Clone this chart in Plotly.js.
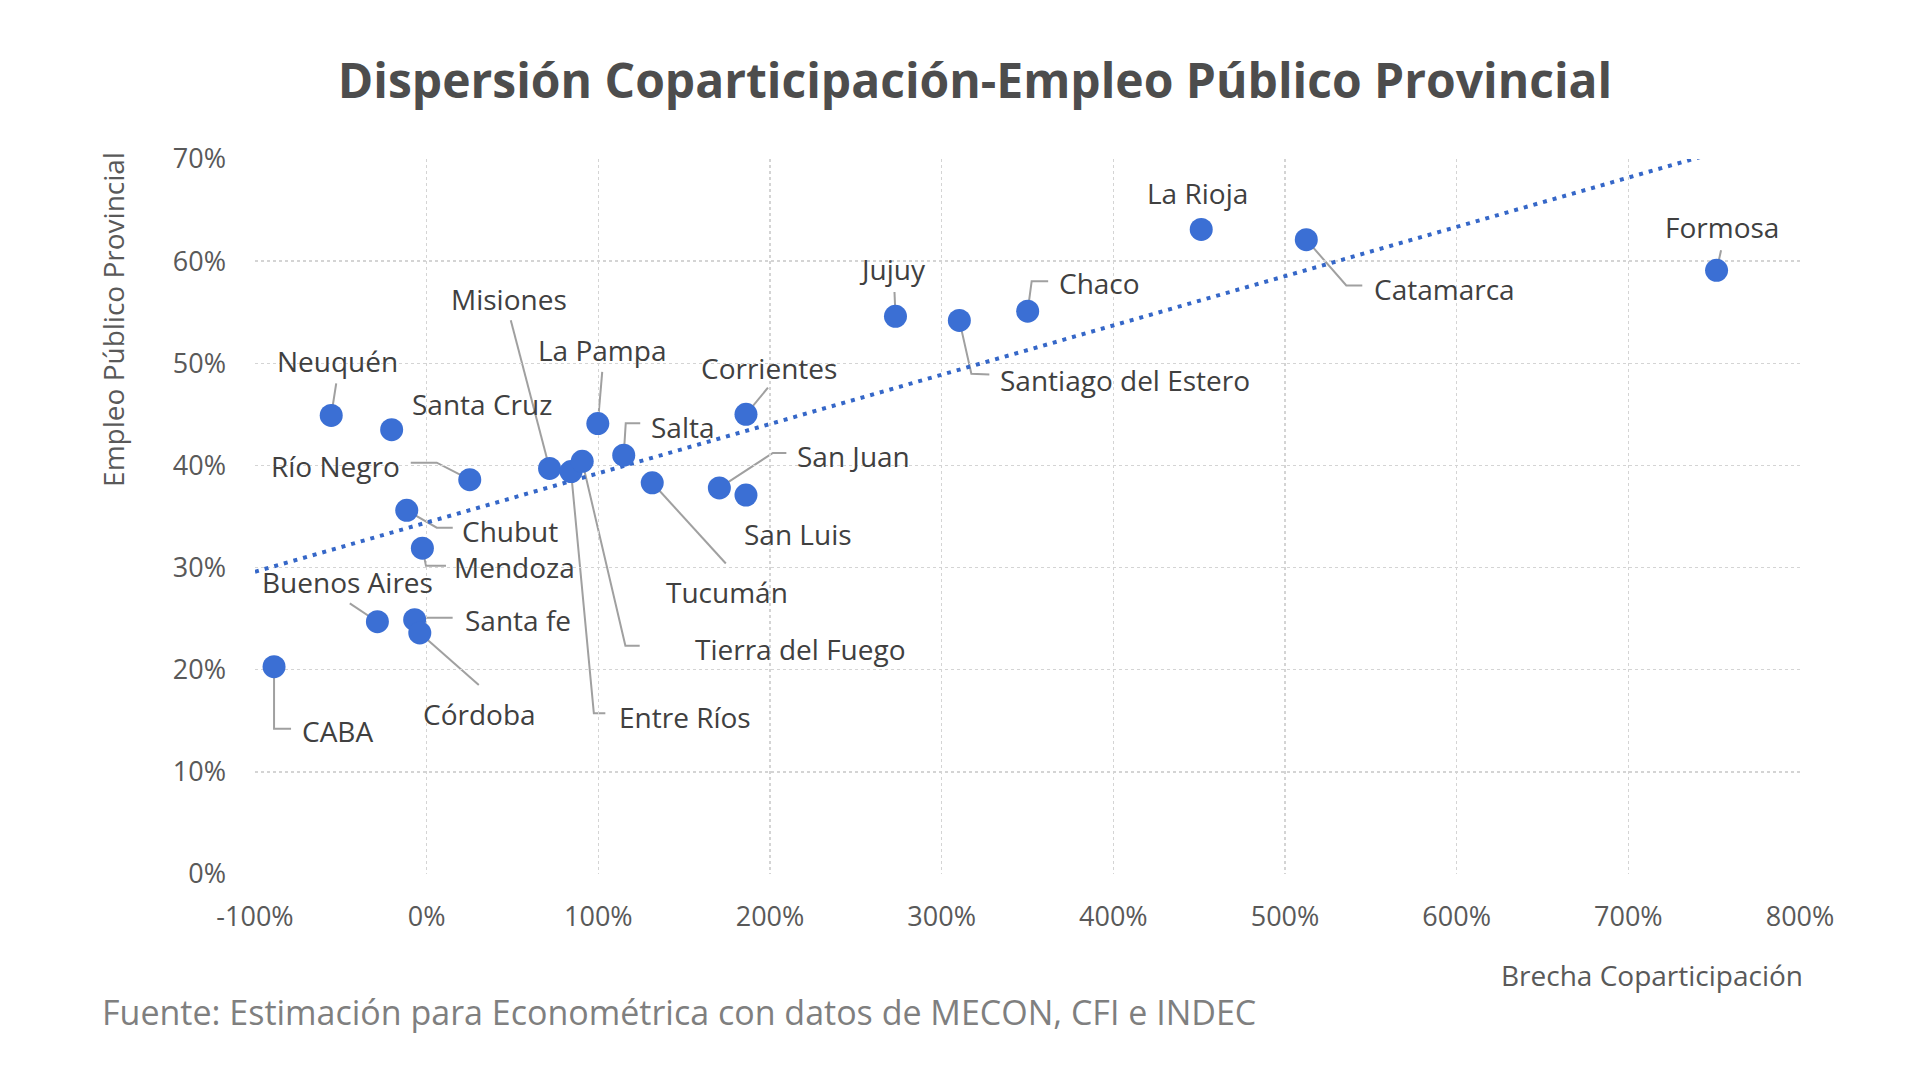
<!DOCTYPE html>
<html lang="es">
<head>
<meta charset="utf-8">
<title>Dispersión Coparticipación-Empleo Público Provincial</title>
<script src="https://cdn.plot.ly/plotly-3.0.1.min.js"></script>
<style>
  html, body { margin: 0; padding: 0; background: #ffffff; }
  #chart { width: 1920px; height: 1092px; }
  /* soft shadow under the province markers */
  .scatterlayer .trace.provincias .point { filter: drop-shadow(1px 3px 2px rgba(0,0,0,0.35)); }
</style>
</head>
<body>
<div id="chart"></div>
<script>
// Jurisdicciones
const provincias = [
  'CABA', 'Buenos Aires', 'Santa fe', 'Córdoba', 'Mendoza', 'Chubut',
  'Río Negro', 'Neuquén', 'Santa Cruz', 'Misiones', 'Entre Ríos',
  'Tierra del Fuego', 'La Pampa', 'Salta', 'Tucumán', 'San Juan',
  'San Luis', 'Corrientes', 'Jujuy', 'Santiago del Estero', 'Chaco',
  'La Rioja', 'Catamarca', 'Formosa'
];

// Brecha de coparticipación (%)
const brecha = [
  -88.9, -28.7, -7.0, -4.0, -2.5, -11.6,
  25.1, -55.6, -20.4, 71.6, 84.1,
  90.6, 99.7, 114.8, 131.4, 170.5,
  186.0, 186.0, 273.1, 310.3, 350.1,
  451.2, 512.4, 751.4
];

// Empleo público provincial (%)
const empleo = [
  20.3, 24.7, 24.9, 23.6, 31.9, 35.6,
  38.6, 44.9, 43.5, 39.7, 39.4,
  40.4, 44.1, 41.0, 38.3, 37.8,
  37.1, 45.0, 54.6, 54.2, 55.1,
  63.1, 62.1, 59.1
];

// Ejes
const xTickVals = [-100, 0, 100, 200, 300, 400, 500, 600, 700, 800];
const xTickText = ['-100%', '0%', '100%', '200%', '300%', '400%', '500%', '600%', '700%', '800%'];
const yTickVals = [0, 10, 20, 30, 40, 50, 60, 70];
const yTickText = ['0%', '10%', '20%', '30%', '40%', '50%', '60%', '70%'];

// Label placement: offset of each label centre from its point (px, +y = down)
// and the leader-line vertices (px, +y = down), empty when no leader is drawn.
const labelPlacement = {
  'CABA':                { dx: 63,    dy: 64,    leader: [[0, 62], [17, 62]] },
  'Buenos Aires':        { dx: -30,   dy: -40,   leader: [[-27.6, -18.4]] },
  'Santa fe':            { dx: 103,   dy: 0,     leader: [[10, -2], [38, -2]] },
  'Córdoba':             { dx: 60,    dy: 80.6,  leader: [[59, 52]] },
  'Mendoza':             { dx: 92.4,  dy: 18.4,  leader: [[3.6, 17.7], [23.6, 17.7]] },
  'Chubut':              { dx: 103,   dy: 20.7,  leader: [[30, 17.3], [46, 17.3]] },
  'Río Negro':           { dx: -134.7,dy: -13.3, leader: [[-33, -17], [-59, -17]] },
  'Neuquén':             { dx: 6.7,   dy: -54,   leader: [[5, -32]] },
  'Santa Cruz':          { dx: 90.4,  dy: -26,   leader: [] },
  'Misiones':            { dx: -41,   dy: -169,  leader: [[-38.8, -148.3]] },
  'Entre Ríos':          { dx: 114,   dy: 245,   leader: [[22.8, 241.6], [34.3, 241.6]] },
  'Tierra del Fuego':    { dx: 218.3, dy: 187.6, leader: [[43.2, 184.3], [57.5, 184.3]] },
  'La Pampa':            { dx: 4,     dy: -74,   leader: [[4.4, -51.6]] },
  'Salta':               { dx: 58.8,  dy: -28.3, leader: [[2, -32], [16.5, -32]] },
  'Tucumán':             { dx: 74.7,  dy: 109.4, leader: [[73.6, 80.7]] },
  'San Juan':            { dx: 133.8, dy: -32.3, leader: [[53.5, -35], [67, -35]] },
  'San Luis':            { dx: 52.3,  dy: 39,    leader: [] },
  'Corrientes':          { dx: 22.6,  dy: -46.7, leader: [[22, -26.7]] },
  'Jujuy':               { dx: -2.6,  dy: -47.5, leader: [[-1, -24.3]] },
  'Santiago del Estero': { dx: 166,   dy: 59.3,  leader: [[12, 53.3], [30, 54]] },
  'Chaco':               { dx: 71.6,  dy: -28.4, leader: [[4, -30], [20.5, -30]] },
  'La Rioja':            { dx: -3.8,  dy: -36,   leader: [] },
  'Catamarca':           { dx: 138,   dy: 49,    leader: [[40, 45.7], [56, 45.7]] },
  'Formosa':             { dx: 5.3,   dy: -43.3, leader: [[4.5, -20]] }
};

// Linear least-squares trend of empleo on brecha
function linearFit(xs, ys) {
  const n = xs.length;
  const mx = xs.reduce((a, b) => a + b, 0) / n;
  const my = ys.reduce((a, b) => a + b, 0) / n;
  let sxy = 0, sxx = 0;
  for (let i = 0; i < n; i++) {
    sxy += (xs[i] - mx) * (ys[i] - my);
    sxx += (xs[i] - mx) * (xs[i] - mx);
  }
  const slope = sxy / sxx;
  return { slope: slope, intercept: my - slope * mx };
}
const fit = linearFit(brecha, empleo);
const trendX = [xTickVals[0], Math.max.apply(null, brecha)];
const trendY = trendX.map(v => fit.intercept + fit.slope * v);

const FONT = '"Open Sans", "Noto Sans", sans-serif';

const traces = [
  {
    type: 'scatter', mode: 'lines', name: 'Tendencia',
    x: trendX, y: trendY,
    line: { color: '#3567c8', width: 4, dash: '4px,6px' },
    hoverinfo: 'skip'
  },
  {
    type: 'scatter', mode: 'markers', name: 'provincias',
    x: brecha, y: empleo, text: provincias,
    marker: { size: 23, color: '#3b6fd4', line: { width: 0 } },
    cliponaxis: false
  }
];

const annotations = provincias.map((p, i) => {
  const pl = labelPlacement[p];
  return {
    x: brecha[i], y: empleo[i], xref: 'x', yref: 'y',
    text: p, showarrow: false,
    xanchor: 'center', yanchor: 'middle',
    xshift: pl.dx, yshift: -pl.dy,
    font: { family: FONT, size: 28, color: '#404040' }
  };
});

// Axis titles and source note
annotations.push({
  xref: 'paper', yref: 'paper', x: -0.0919, y: 0.775,
  text: 'Empleo Público Provincial', textangle: -90, showarrow: false,
  xanchor: 'center', yanchor: 'middle',
  font: { family: FONT, size: 28, color: '#595959' }
});
annotations.push({
  xref: 'paper', yref: 'paper', x: 1.003, y: -0.1413,
  text: 'Brecha Coparticipación', showarrow: false,
  xanchor: 'right', yanchor: 'middle',
  font: { family: FONT, size: 28, color: '#595959' }
});
annotations.push({
  xref: 'paper', yref: 'paper', x: -0.1003, y: -0.1926,
  text: 'Fuente: Estimación para Econométrica con datos de MECON, CFI e INDEC',
  showarrow: false, xanchor: 'left', yanchor: 'middle',
  font: { family: FONT, size: 34, color: '#7f7f7f' }
});

// Leader lines, anchored at each point and drawn in pixel offsets
const shapes = [];
provincias.forEach((p, i) => {
  const pl = labelPlacement[p];
  if (!pl.leader.length) return;
  let path = 'M0,0';
  pl.leader.forEach(v => { path += ' L' + v[0] + ',' + (-v[1]); });
  shapes.push({
    type: 'path', layer: 'below',
    xref: 'x', yref: 'y',
    xsizemode: 'pixel', ysizemode: 'pixel',
    xanchor: brecha[i], yanchor: empleo[i],
    path: path,
    line: { color: '#a0a0a0', width: 2 }
  });
});

const layout = {
  width: 1920, height: 1092,
  paper_bgcolor: '#ffffff', plot_bgcolor: '#ffffff',
  margin: { l: 255, r: 120, t: 159, b: 218 },
  showlegend: false,
  font: { family: FONT, color: '#595959' },
  title: {
    text: '<b>Dispersión Coparticipación-Empleo Público Provincial</b>',
    xref: 'container', yref: 'container',
    x: 0.5078, y: 0.926, xanchor: 'center', yanchor: 'middle',
    font: { family: FONT, size: 48, color: '#4d4d4d' }
  },
  xaxis: {
    range: [-100, 800], tickmode: 'array',
    tickvals: xTickVals, ticktext: xTickText,
    showgrid: true, gridcolor: '#d4d4d4', gridwidth: 1.5, griddash: 'dot',
    zeroline: false, showline: false, ticks: '',
    ticklabelstandoff: 24,
    tickfont: { family: FONT, size: 27, color: '#595959' }
  },
  yaxis: {
    range: [0, 70], tickmode: 'array',
    tickvals: yTickVals, ticktext: yTickText,
    showgrid: true, gridcolor: '#d4d4d4', gridwidth: 1.5, griddash: 'dot',
    zeroline: false, showline: false, ticks: '',
    ticklabelstandoff: 28,
    tickfont: { family: FONT, size: 27, color: '#595959' }
  },
  annotations: annotations,
  shapes: shapes
};

Plotly.newPlot('chart', traces, layout, { staticPlot: true, displayModeBar: false });
</script>
</body>
</html>
